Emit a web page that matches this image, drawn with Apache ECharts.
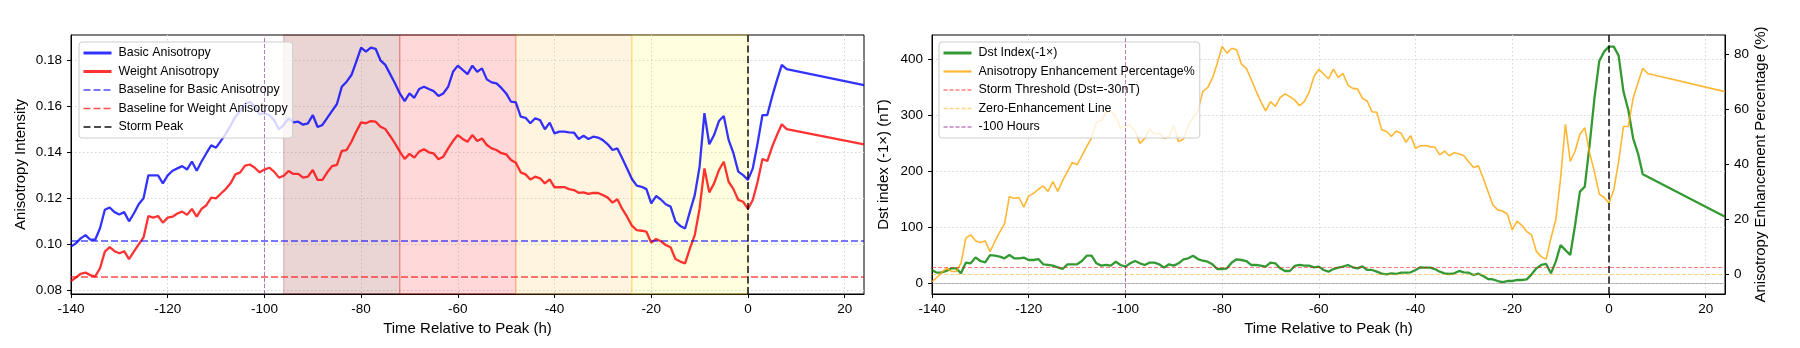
<!DOCTYPE html>
<html>
<head>
<meta charset="utf-8">
<script src="https://cdn.jsdelivr.net/npm/echarts@6/dist/echarts.min.js"></script>
<style>
  html, body { margin: 0; padding: 0; background: #fff; }
  #chart { width: 1800px; height: 348px; }
</style>
</head>
<body>
<div id="chart"></div>
<script>
// hours relative to storm peak (hourly up to +8, then one point at +24)
const hours = [
  -140, -139, -138, -137, -136, -135, -134, -133, -132, -131,
  -130, -129, -128, -127, -126, -125, -124, -123, -122, -121,
  -120, -119, -118, -117, -116, -115, -114, -113, -112, -111,
  -110, -109, -108, -107, -106, -105, -104, -103, -102, -101,
  -100, -99, -98, -97, -96, -95, -94, -93, -92, -91,
  -90, -89, -88, -87, -86, -85, -84, -83, -82, -81,
  -80, -79, -78, -77, -76, -75, -74, -73, -72, -71,
  -70, -69, -68, -67, -66, -65, -64, -63, -62, -61,
  -60, -59, -58, -57, -56, -55, -54, -53, -52, -51,
  -50, -49, -48, -47, -46, -45, -44, -43, -42, -41,
  -40, -39, -38, -37, -36, -35, -34, -33, -32, -31,
  -30, -29, -28, -27, -26, -25, -24, -23, -22, -21,
  -20, -19, -18, -17, -16, -15, -14, -13, -12, -11,
  -10, -9, -8, -7, -6, -5, -4, -3, -2, -1,
  0, 1, 2, 3, 4, 5, 6, 7, 8, 24
]

const basicAniso = [
  0.0990, 0.1004, 0.1026, 0.1040, 0.1020, 0.1020, 0.1070, 0.1150, 0.1160, 0.1140,
  0.1130, 0.1140, 0.1100, 0.1134, 0.1174, 0.1200, 0.1300, 0.1300, 0.1300, 0.1265,
  0.1300, 0.1320, 0.1330, 0.1340, 0.1325, 0.1360, 0.1320, 0.1360, 0.1396, 0.1430,
  0.1420, 0.1450, 0.1480, 0.1516, 0.1555, 0.1580, 0.1610, 0.1620, 0.1600, 0.1565,
  0.1570, 0.1562, 0.1540, 0.1500, 0.1519, 0.1548, 0.1530, 0.1533, 0.1520, 0.1526,
  0.1562, 0.1510, 0.1519, 0.1550, 0.1580, 0.1610, 0.1685, 0.1707, 0.1736, 0.1794,
  0.1855, 0.1838, 0.1855, 0.1850, 0.1800, 0.1780, 0.1740, 0.1700, 0.1656, 0.1623,
  0.1656, 0.1637, 0.1675, 0.1685, 0.1675, 0.1666, 0.1645, 0.1656, 0.1685, 0.1750,
  0.1777, 0.1758, 0.1740, 0.1777, 0.1750, 0.1765, 0.1717, 0.1704, 0.1700, 0.1680,
  0.1656, 0.1620, 0.1617, 0.1555, 0.1550, 0.1526, 0.1548, 0.1540, 0.1500, 0.1529,
  0.1482, 0.1490, 0.1490, 0.1487, 0.1486, 0.1458, 0.1472, 0.1458, 0.1468, 0.1464,
  0.1453, 0.1435, 0.1410, 0.1417, 0.1374, 0.1330, 0.1284, 0.1255, 0.1250, 0.1240,
  0.1178, 0.1210, 0.1195, 0.1174, 0.1164, 0.1100, 0.1080, 0.1069, 0.1142, 0.1214,
  0.1338, 0.1570, 0.1435, 0.1475, 0.1536, 0.1558, 0.1454, 0.1396, 0.1316, 0.1301,
  0.1280, 0.1330, 0.1440, 0.1562, 0.1562, 0.1642, 0.1714, 0.1780, 0.1762, 0.1692
]

const weightAniso = [
  0.0840, 0.0855, 0.0872, 0.0877, 0.0866, 0.0860, 0.0896, 0.0968, 0.0988, 0.0970,
  0.0961, 0.0970, 0.0936, 0.0968, 0.1000, 0.1030, 0.1123, 0.1116, 0.1123, 0.1094,
  0.1116, 0.1120, 0.1134, 0.1142, 0.1128, 0.1154, 0.1120, 0.1154, 0.1170, 0.1203,
  0.1200, 0.1221, 0.1240, 0.1265, 0.1304, 0.1313, 0.1342, 0.1347, 0.1333, 0.1313,
  0.1325, 0.1333, 0.1316, 0.1290, 0.1298, 0.1319, 0.1306, 0.1306, 0.1290, 0.1294,
  0.1323, 0.1280, 0.1280, 0.1313, 0.1340, 0.1345, 0.1406, 0.1410, 0.1446, 0.1490,
  0.1530, 0.1526, 0.1536, 0.1533, 0.1511, 0.1501, 0.1471, 0.1439, 0.1403, 0.1371,
  0.1393, 0.1377, 0.1403, 0.1413, 0.1400, 0.1395, 0.1370, 0.1381, 0.1417, 0.1449,
  0.1475, 0.1458, 0.1446, 0.1475, 0.1449, 0.1460, 0.1432, 0.1417, 0.1410, 0.1396,
  0.1391, 0.1367, 0.1355, 0.1313, 0.1304, 0.1282, 0.1294, 0.1287, 0.1265, 0.1282,
  0.1248, 0.1248, 0.1249, 0.1240, 0.1236, 0.1224, 0.1226, 0.1219, 0.1224, 0.1223,
  0.1214, 0.1203, 0.1181, 0.1196, 0.1154, 0.1120, 0.1081, 0.1062, 0.1059, 0.1055,
  0.1007, 0.1023, 0.1013, 0.0997, 0.0987, 0.0936, 0.0925, 0.0917, 0.0982, 0.1040,
  0.1156, 0.1330, 0.1226, 0.1265, 0.1323, 0.1359, 0.1272, 0.1240, 0.1193, 0.1185,
  0.1154, 0.1193, 0.1272, 0.1371, 0.1362, 0.1424, 0.1475, 0.1522, 0.1501, 0.1435
]

// Dst index multiplied by -1 (nT)
const dstIndex = [
  24.5, 19.7, 20.3, 22.7, 27.4, 27.4, 18.5, 37.6, 36.4, 47.0,
  40.5, 38.0, 51.0, 50.0, 48.3, 45.3, 51.2, 45.3, 45.3, 46.5,
  42.3, 42.3, 44.0, 34.6, 33.4, 32.2, 29.2, 26.2, 34.6, 34.6,
  34.6, 40.5, 50.0, 50.0, 36.4, 32.2, 33.4, 32.2, 39.3, 33.4,
  30.4, 36.4, 40.5, 36.4, 33.4, 37.6, 37.6, 34.6, 28.6, 34.6,
  32.2, 36.4, 43.5, 45.3, 50.0, 44.0, 41.0, 39.3, 34.6, 26.2,
  26.2, 27.4, 38.0, 43.5, 42.3, 40.5, 33.4, 33.4, 32.2, 30.4,
  37.6, 36.4, 27.4, 22.7, 22.7, 31.6, 33.4, 32.2, 32.2, 29.2,
  30.4, 24.5, 21.5, 26.2, 28.6, 30.4, 33.4, 29.2, 27.4, 31.0,
  24.5, 24.5, 21.5, 17.9, 16.7, 18.5, 17.3, 19.7, 19.7, 20.3,
  24.5, 29.2, 28.6, 28.6, 26.2, 21.5, 18.5, 17.3, 18.5, 22.7,
  20.3, 19.7, 15.5, 17.9, 13.7, 8.4, 7.8, 4.8, 3.0, 4.8,
  4.8, 6.6, 6.6, 7.8, 16.7, 27.4, 33.4, 35.2, 18.5, 39.3,
  69.0, 60.0, 51.2, 104.8, 164.3, 173.3, 247.7, 331.0, 397.7, 414.3,
  423.3, 423.3, 407.2, 343.0, 310.0, 259.6, 232.8, 195.3, 191.0, 119.7
]

// anisotropy enhancement (%)
const enhancePct = [
  -2.7, -1.2, 0.6, 2.2, 1.0, 1.0, 4.0, 13.1, 14.3, 12.2,
  11.5, 12.1, 8.2, 11.9, 15.3, 18.3, 28.2, 27.6, 27.9, 24.4,
  28.5, 29.4, 30.9, 32.1, 30.1, 33.7, 30.1, 34.0, 37.3, 40.6,
  39.8, 43.0, 46.4, 49.7, 55.3, 55.8, 58.9, 59.4, 57.3, 53.1,
  54.2, 54.3, 51.9, 47.6, 49.4, 52.8, 50.9, 51.3, 49.4, 50.1,
  54.0, 48.2, 49.2, 54.0, 57.0, 59.4, 66.4, 67.9, 71.3, 76.7,
  82.8, 80.4, 82.2, 81.6, 76.4, 74.9, 70.9, 66.7, 62.8, 59.4,
  62.8, 61.0, 64.2, 65.6, 64.6, 63.4, 61.3, 62.8, 66.2, 71.9,
  74.5, 72.8, 71.0, 74.6, 71.6, 73.0, 68.8, 67.6, 67.4, 64.0,
  63.0, 59.1, 58.9, 52.5, 51.9, 50.1, 52.1, 51.3, 48.0, 50.4,
  45.8, 46.7, 46.8, 46.4, 46.2, 43.4, 44.8, 43.1, 44.2, 43.8,
  43.1, 40.9, 38.8, 39.4, 34.9, 30.0, 25.2, 23.4, 23.0, 21.8,
  16.1, 19.3, 17.7, 15.5, 14.3, 8.2, 6.4, 5.4, 13.1, 19.7,
  34.9, 54.5, 41.0, 44.8, 50.9, 53.3, 44.0, 37.3, 29.1, 27.9,
  25.8, 30.7, 41.0, 53.7, 53.7, 64.0, 69.6, 74.9, 73.0, 66.4
]

const basicBaseline = 0.1016
const weightBaseline = 0.0859
const stormThreshold = 30
const stormPeakHour = 0
const markerHour = -100

// storm phases shaded on the left panel
const phaseStart = [-96, -72, -48, -24]
const phaseEnd = [-72, -48, -24, 0]

const xTicks = [-140, -120, -100, -80, -60, -40, -20, 0, 20]
const anisoTicks = [0.08, 0.10, 0.12, 0.14, 0.16, 0.18]
const dstTicks = [0, 100, 200, 300, 400]
const pctTicks = [0, 20, 40, 60, 80]

const FONT = 'Liberation Sans, Arial, Helvetica, sans-serif'
const phaseFill = ['rgba(139,0,0,0.17)', 'rgba(255,0,0,0.15)', 'rgba(255,165,0,0.12)', 'rgba(255,255,0,0.12)']
const phaseEdge = ['rgba(139,0,0,0.28)', 'rgba(255,0,0,0.3)', 'rgba(255,140,0,0.3)', 'rgba(255,200,0,0.35)']

const pairs = (ys) => hours.map((h, i) => [h, ys[i]])

const chart = echarts.init(document.getElementById('chart'), null, { renderer: 'canvas' })

const xAxisOf = (gridIndex) => ({
    type: 'value',
    gridIndex,
    min: -140,
    max: 24,
    name: 'Time Relative to Peak (h)',
    nameLocation: 'middle',
    nameGap: 27,
    nameTextStyle: { fontSize: 15, color: '#000', fontFamily: FONT },
    axisLine: { show: true, onZero: false, lineStyle: { color: '#000', width: 1 } },
    axisTick: { show: true, length: 4, customValues: xTicks, lineStyle: { color: '#000' } },
    axisLabel: { fontSize: 13.5, color: '#000', margin: 8, fontFamily: FONT, customValues: xTicks },
    splitLine: { show: true, lineStyle: { color: '#d6d6d6', type: [1.5, 2.5], width: 1 } }
})

const yAxisOf = (gridIndex, opts) => ({
    type: 'value',
    gridIndex,
    nameLocation: 'middle',
    nameRotate: 90,
    nameTextStyle: { fontSize: 15, color: '#000', fontFamily: FONT },
    axisLine: { show: true, onZero: false, lineStyle: { color: '#000', width: 1 } },
    axisTick: { show: true, length: 4, customValues: opts.ticks, lineStyle: { color: '#000' } },
    axisLabel: { fontSize: 13.5, color: '#000', margin: 9, fontFamily: FONT, customValues: opts.ticks, formatter: opts.fmt },
    splitLine: { show: opts.split, lineStyle: { color: '#d6d6d6', type: [1.5, 2.5], width: 1 } },
    ...opts.extra
})

// a series that only carries one reference line
const refLine = (name, xi, yi, mark, color, width, dash) => ({
    name,
    type: 'line',
    xAxisIndex: xi,
    yAxisIndex: yi,
    data: [],
    symbol: 'none',
    itemStyle: { color },
    lineStyle: { color, width, type: dash },
    markLine: {
        silent: true,
        precision: 6,
        symbol: ['none', 'none'],
        label: { show: false },
        lineStyle: { color, width, type: dash },
        data: [mark]
    }
})

// legend entries: [name, handle line width]
const legendOf = (left, entries) => ({
    data: entries.map(([name, w]) => ({ name, lineStyle: { width: w } })),
    orient: 'vertical',
    left,
    top: 42,
    itemWidth: 28,
    itemHeight: 10,
    itemGap: 6.5,
    padding: [5, 5, 5, 3],
    backgroundColor: 'rgba(255,255,255,0.8)',
    borderColor: '#cccccc',
    borderWidth: 1,
    borderRadius: 3,
    itemStyle: { color: 'transparent', borderColor: 'transparent', borderWidth: 0 },
    textStyle: { fontSize: 12.4, color: '#000', fontFamily: FONT, padding: [0, 0, 0, 2] }
})

chart.setOption({
    animation: false,
    textStyle: { fontFamily: FONT },
    grid: [
        { left: 71, top: 35, width: 793, height: 259, show: true, borderColor: '#000', borderWidth: 1, backgroundColor: 'transparent' },
        { left: 932, top: 35, width: 793, height: 259, show: true, borderColor: '#000', borderWidth: 1, backgroundColor: 'transparent' }
    ],
    legend: [
        legendOf(79, [['Basic Anisotropy', 3], ['Weight Anisotropy', 3], ['Baseline for Basic Anisotropy', 1.5],
            ['Baseline for Weight Anisotropy', 1.5], ['Storm Peak', 2.2]]),
        legendOf(939, [['Dst Index(-1×)', 3], ['Anisotropy Enhancement Percentage%', 2.2], ['Storm Threshold (Dst=-30nT)', 1.5],
            ['Zero-Enhancement Line', 1.5], ['-100 Hours', 1.5]])
    ],
    xAxis: [xAxisOf(0), xAxisOf(1)],
    yAxis: [
        yAxisOf(0, { ticks: anisoTicks, split: true, fmt: (v) => v.toFixed(2),
            extra: { min: 0.0784, max: 0.191, name: 'Anisotropy Intensity', nameGap: 43 } }),
        yAxisOf(1, { ticks: dstTicks, split: true, fmt: (v) => String(v),
            extra: { min: -18.4, max: 444, name: 'Dst index (-1×) (nT)', nameGap: 41, position: 'left' } }),
        yAxisOf(1, { ticks: pctTicks, split: false, fmt: (v) => String(v),
            extra: { min: -7.2, max: 87, name: 'Anisotropy Enhancement Percentage (%)', nameGap: 26, position: 'right' } })
    ],
    series: [
        // shaded phases
        {
            name: 'phases',
            type: 'line',
            xAxisIndex: 0,
            yAxisIndex: 0,
            data: [],
            markArea: {
                silent: true,
                data: phaseStart.map((s, i) => [
                    { xAxis: s, itemStyle: { color: phaseFill[i], borderColor: phaseEdge[i], borderWidth: 1 } },
                    { xAxis: phaseEnd[i] }
                ])
            }
        },
        {
            name: 'Basic Anisotropy',
            type: 'line',
            xAxisIndex: 0,
            yAxisIndex: 0,
            data: pairs(basicAniso),
            symbol: 'none',
            itemStyle: { color: 'rgba(0,0,255,0.8)' },
            lineStyle: { color: 'rgba(0,0,255,0.8)', width: 2.3 }
        },
        {
            name: 'Weight Anisotropy',
            type: 'line',
            xAxisIndex: 0,
            yAxisIndex: 0,
            data: pairs(weightAniso),
            symbol: 'none',
            itemStyle: { color: 'rgba(255,0,0,0.8)' },
            lineStyle: { color: 'rgba(255,0,0,0.8)', width: 2.3 }
        },
        refLine('Baseline for Basic Anisotropy', 0, 0, { yAxis: basicBaseline }, 'rgba(0,0,255,0.7)', 1.5, [7, 3]),
        refLine('Baseline for Weight Anisotropy', 0, 0, { yAxis: weightBaseline }, 'rgba(255,0,0,0.7)', 1.5, [7, 3]),
        refLine('marker left', 0, 0, { xAxis: markerHour }, 'rgba(128,0,128,0.5)', 1, [4, 2]),
        refLine('Storm Peak', 0, 0, { xAxis: stormPeakHour }, 'rgba(0,0,0,0.7)', 2, [7, 3.5]),

        // right panel
        refLine('zero Dst', 1, 1, { yAxis: 0 }, 'rgba(128,128,128,0.5)', 1, 'solid'),
        refLine('Storm Threshold (Dst=-30nT)', 1, 1, { yAxis: stormThreshold }, 'rgba(255,0,0,0.5)', 1, [4, 2]),
        refLine('Zero-Enhancement Line', 1, 2, { yAxis: 0 }, 'rgba(255,165,0,0.5)', 1, [4, 2]),
        refLine('-100 Hours', 1, 1, { xAxis: markerHour }, 'rgba(128,0,128,0.5)', 1, [4, 2]),
        {
            name: 'Dst Index(-1×)',
            type: 'line',
            xAxisIndex: 1,
            yAxisIndex: 1,
            data: pairs(dstIndex),
            symbol: 'none',
            itemStyle: { color: 'rgba(0,128,0,0.8)' },
            lineStyle: { color: 'rgba(0,128,0,0.8)', width: 2.3 }
        },
        {
            name: 'Anisotropy Enhancement Percentage%',
            type: 'line',
            xAxisIndex: 1,
            yAxisIndex: 2,
            data: pairs(enhancePct),
            symbol: 'none',
            itemStyle: { color: 'rgba(255,165,0,0.8)' },
            lineStyle: { color: 'rgba(255,165,0,0.8)', width: 1.6 }
        },
        refLine('storm peak right', 1, 1, { xAxis: stormPeakHour }, 'rgba(0,0,0,0.7)', 2, [7, 3.5])
    ]
})
</script>
</body>
</html>
